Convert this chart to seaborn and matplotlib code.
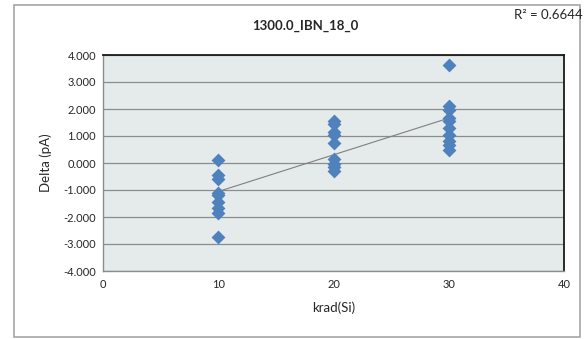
import numpy as np
import pandas as pd
import matplotlib
matplotlib.use("Agg")
import matplotlib.pyplot as plt
import seaborn as sns

# values
krad_10 = [0.10, -0.45, -0.60, -1.10, -1.20, -1.45, -1.65, -1.85, -2.75]
krad_20 = [1.55, 1.45, 1.15, 1.05, 0.75, 0.15, -0.05, -0.15, -0.30]
krad_30 = [3.62, 2.12, 1.95, 1.65, 1.55, 1.30, 1.05, 0.80, 0.65, 0.50]
doses = [10, 20, 30]
title = "1300.0_IBN_18_0"
r2_label = "R\u00b2 = 0.6644"

rows = []
for d, vals in zip(doses, [krad_10, krad_20, krad_30]):
    for v in vals:
        rows.append({"krad": d, "delta": v})
data = pd.DataFrame(rows)

sns.set_style("white")
plt.rcParams["font.family"] = ["Lato", "DejaVu Sans"]

W, H = 585, 339
fig = plt.figure(figsize=(W / 100, H / 100), dpi=100)
ax = fig.add_axes([103 / W, 1 - 271 / H, (564 - 103) / W, (271 - 55) / H])
ax.set_facecolor("#E5EBEB")

# outer chart frame
fig.patches.append(plt.Rectangle((14 / W, 1 - 337 / H), (580 - 14) / W, (337 - 5) / H,
                                 transform=fig.transFigure, fill=False,
                                 edgecolor="#A6A6A6", linewidth=1.2))

ax.set_xlim(0, 40)
ax.set_ylim(-4, 4)
ax.set_yticks(np.arange(-4, 4.01, 1))
ax.set_xticks([0, 10, 20, 30, 40])
ax.yaxis.grid(True, color="#8C8C8C", linewidth=0.9)
ax.set_axisbelow(True)

# linear trendline
coef = np.polyfit(data["krad"], data["delta"], 1)
xs = np.array([min(doses), max(doses)])
ax.plot(xs, np.polyval(coef, xs), color="#7F7F7F", linewidth=0.8, zorder=3)

sns.scatterplot(data=data, x="krad", y="delta", marker="D", s=50,
                color="#4F81BD", edgecolor="#4F81BD", linewidth=0, ax=ax, zorder=4)

ax.set_yticklabels([f"{v:.3f}" for v in np.arange(-4, 4.01, 1)])
ax.tick_params(axis="both", labelsize=8, length=3, color="#8C8C8C", direction="out")
ax.tick_params(axis="y", pad=2)
ax.tick_params(axis="x", pad=3)

for s in ["left", "bottom"]:
    ax.spines[s].set_color("#8C8C8C")
    ax.spines[s].set_linewidth(1.0)
for s in ["top", "right"]:
    ax.spines[s].set_color("#1A1A1A")
    ax.spines[s].set_linewidth(1.3)

ax.set_xlabel("krad(Si)", fontsize=9.5, labelpad=8)
ax.set_ylabel("Delta (pA)", fontsize=9.5, labelpad=8)

fig.text(305 / W, 1 - 26 / H, title, ha="center", va="center",
         fontsize=9.5, fontweight="bold")
fig.text(583 / W, 1 - 15 / H, r2_label, ha="right", va="center", fontsize=9.5)

fig.savefig("out.png", dpi=100, facecolor="white")
